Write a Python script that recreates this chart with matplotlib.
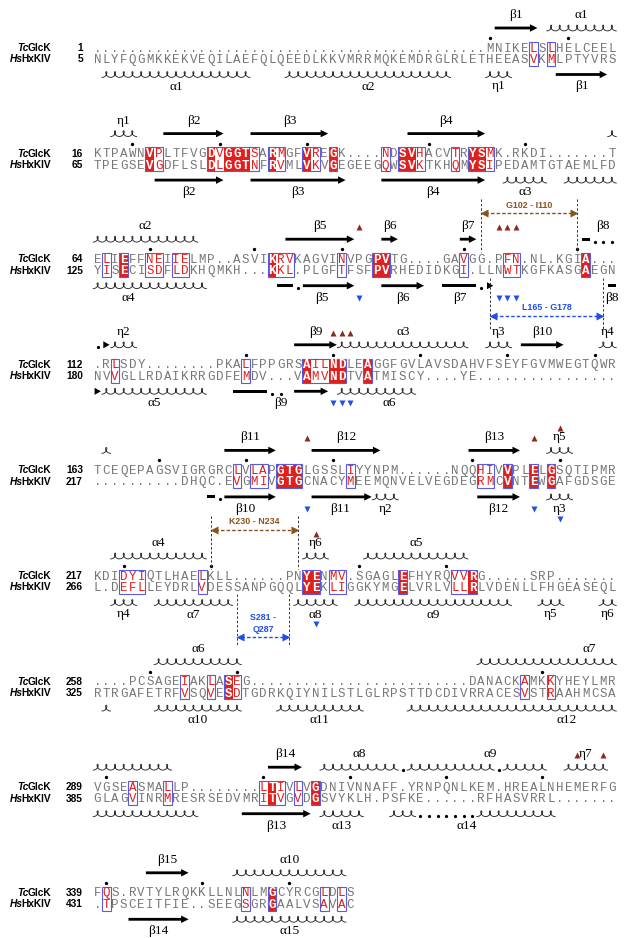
import numpy as np
import matplotlib.pyplot as plt
from matplotlib.patches import Rectangle, FancyArrow, Polygon

# ---------------- alignment data ----------------
tc_start = [1, 16, 64, 112, 163, 217, 258, 289, 339]
hs_start = [5, 65, 125, 180, 217, 266, 325, 385, 431]

tc_seq = [
    "." * 45 + "MNIKELSLHELCEEL",
    "KTPAWNVPLTFVGDVGGTSARMGFVREGK....NDSVHACVTRYSMK.RKDI.......T",
    "ELIEFFNEIIELMP..ASVIKRVKAGVINVPGPVTG....GAVGG.PFN.NL.KGIA...",
    ".RLSDY........PKALFPPGRSAILNDLEAGGFGVLAVSDAHVFSEYFGVMWEGTQWR",
    "TCEQEPAGSVIGRGRCLVLAPGTGLGSSLIYYNPM......NQQHIVVPLELGSQTIPMR",
    "KDIDYIQTLHAELKLL......PNYENMV.SGAGLEFHYRQVVRG.....SRP.......",
    "....PCSAGEIAKLASEG" + "." * 25 + "DANACKAMKKYHEYLMR",
    "VGSEASMALLP........LTIVLVGDNIVNNAFF.YRNPQNLKEM.HREALNHEMERFG",
    "FQS.RVTYLRQKKLLNLNLMGCYRCGLDLS",
]
hs_seq = [
    "NLYFQGMKKEKVEQILAEFQLQEEDLKKVMRRMQKEMDRGLRLETHEEASVKMLPTYVRS",
    "TPEGSEVGDFLSLDLGGTNFRVMLVKVGEGEEGQWSVKTKHQMYSIPEDAMTGTAEMLFD",
    "YISECISDFLDKHQMKH...KKL.PLGFTFSFPVRHEDIDKGI.LLNWTKGFKASGAEGN",
    "NVVGLLRDAIKRRGDFEMDV...VAMVNDTVATMISCY....YE" + "." * 16,
    "." * 10 + "DHQC.EVGMIVGTGCNACYMEEMQNVELVEGDEGRMCVNTEWGAFGDSGE",
    "L.DEFLLEYDRLVDESSANPGQQLYEKLIGGKYMGELVRLVLLRLVDENLLFHGEASEQL",
    "RTRGAFETRFVSQVESDTGDRKQIYNILSTLGLRPSTTDCDIVRRACESVSTRAAHMCSA",
    "GLAGVINRMRESRSEDVMRITVGVDGSVYKLH.PSFKE......RFHASVRRL.......",
    ".TPSCEITFIE..SEEGSGRGAALVSAVAC",
]

# columns with identical (red box) and similar (red letter) residues
identical = [
    [],
    [6, 13, 15, 16, 17, 20, 24, 27, 35, 36, 43, 44],
    [3, 20, 32, 33, 56],
    [24, 27, 28, 31],
    [21, 22, 23, 47, 50, 52],
    [24, 25, 35, 43],
    [15],
    [20, 25],
    [20],
]
similar = [
    [50, 52],
    [7, 14, 18, 21, 25, 33, 37, 41, 45],
    [1, 6, 7, 9, 10, 21, 22, 28, 42, 47, 48],
    [2, 17, 25, 26],
    [16, 18, 19, 29, 44, 45],
    [3, 4, 5, 12, 27, 28, 41, 42],
    [10, 13, 16, 49, 52],
    [4, 8, 19, 21, 23],
    [1, 17, 26, 28],
]

# secondary structure: (kind, first col, last col, label[, label col])
top_ss = [
    [("arrow", 46, 50, "β1"), ("coil", 52, 59, "α1")],
    [("coil", 2, 4, "η1"), ("arrow", 8, 14, "β2"), ("arrow", 18, 26, "β3"),
     ("arrow", 36, 44, "β4"), ("coil", 59, 59, "")],
    [("coil", 0, 11, "α2"), ("arrow", 22, 29, "β5"), ("arrow", 33, 34, "β6"),
     ("arrow", 42, 43, "β7"), ("bar", 56, 56, ""), ("dot", 57, 57, ""),
     ("dot", 58, 58, ""), ("dot", 59, 59, ""), ("label", 58, 58, "β8")],
    [("dot", 0, 0, ""), ("head", 1, 1, ""), ("coil", 2, 4, "η2"),
     ("arrow", 23, 27, "β9"), ("coil", 28, 42, "α3"), ("coil", 45, 47, "η3"),
     ("arrow", 49, 53, "β10"), ("coil", 58, 59, "η4")],
    [("coil", 1, 1, ""), ("arrow", 15, 20, "β11"), ("arrow", 25, 32, "β12"),
     ("arrow", 43, 48, "β13"), ("coil", 52, 54, "η5")],
    [("coil", 2, 12, "α4"), ("coil", 24, 26, "η6"), ("coil", 31, 42, "α5")],
    [("coil", 7, 16, "α6"), ("coil", 44, 59, "α7", 56.4)],
    [("coil", 0, 8, ""), ("arrow", 20, 23, "β14"), ("coil", 26, 34, "α8"),
     ("dot", 35, 35, ""), ("coil", 36, 37, ""), ("coil", 38, 45, "α9", 45),
     ("dot", 46, 46, ""), ("coil", 47, 51, ""), ("coil", 54, 58, "η7")],
    [("arrow", 6, 10, "β15"), ("coil", 16, 28, "α10")],
]
bot_ss = [
    [("coil", 1, 17, "α1"), ("coil", 22, 40, "α2"), ("coil", 45, 47, "η1"),
     ("arrow", 53, 58, "β1")],
    [("arrow", 7, 14, "β2"), ("arrow", 18, 28, "β3"), ("arrow", 33, 44, "β4"),
     ("coil", 47, 51, "α3"), ("coil", 54, 59, "")],
    [("coil", 0, 12, "α4", 3.5), ("bar", 21, 22, ""), ("dot", 23, 23, ""),
     ("arrow", 24, 29, "β5", 25.7), ("arrow", 33, 37, "β6"), ("bar", 40, 43, "β7"),
     ("dot", 44, 44, ""), ("head", 45, 45, ""), ("bar", 59, 59, "β8")],
    [("head", 0, 0, ""), ("coil", 1, 12, "α5"), ("bar", 16, 19, ""),
     ("dot", 20, 20, ""), ("dot", 21, 21, ""), ("arrow", 23, 26, ""),
     ("label", 21, 21, "β9"), ("coil", 28, 36, "α6", 33.5)],
    [("bar", 13, 13, ""), ("dot", 14, 14, ""), ("arrow", 15, 20, "β10", 16.9),
     ("arrow", 25, 31, "β11", 27.8), ("coil", 32, 34, "η2"),
     ("arrow", 44, 48, "β12"), ("coil", 52, 54, "η3")],
    [("coil", 2, 4, "η4"), ("coil", 7, 15, "α7"), ("coil", 23, 27, "α8"),
     ("coil", 30, 47, "α9"), ("coil", 51, 53, "η5"), ("coil", 58, 59, "η6")],
    [("coil", 1, 1, ""), ("coil", 7, 16, "α10"), ("coil", 21, 30, "α11"),
     ("coil", 36, 59, "α12", 53.8)],
    [("coil", 0, 11, ""), ("arrow", 17, 24, "β13"), ("coil", 26, 30, "α13"),
     ("coil", 34, 36, ""), ("dot", 37, 37, ""), ("dot", 38, 38, ""),
     ("dot", 39, 39, ""), ("dot", 40, 40, ""), ("dot", 41, 41, ""),
     ("dot", 42, 42, ""), ("dot", 43, 43, ""), ("coil", 44, 52, "α14", 42.3)],
    [("arrow", 4, 10, "β14"), ("coil", 16, 28, "α15")],
]

# extra position markers not on a multiple of ten: (block, col)
extra_dots = [(0, 45)]

# contact triangles: (col, level)
top_tri = [[], [], [(30, 0), (46, 0), (47, 0), (48, 0)], [(27, 0), (28, 0), (29, 0)],
           [(24, 0), (50, 0), (53, 1)], [(25, 1)], [], [(55, 0), (58, 0)], []]
bot_tri = [[], [], [(30, 0), (46, 0), (47, 0), (48, 0)], [(27, 0), (28, 0), (29, 0)],
           [(24, 0), (50, 0), (53, 1)], [(25, 1)], [], [], []]

# flexible regions
reg_block = [2, 2, 5, 5]
reg_side = ["top", "bot", "top", "bot"]
reg_cols = [(44, 55), (45, 58), (13, 23), (16, 22)]
reg_text = ["G102 - I110", "L165 - G178", "K230 - N234", "S281 -\nQ287"]

# ---------------- drawing ----------------
RED = "#e0201c"
FRAME = "#5b5be0"
GREY = "#777777"
BROWN = "#8a531c"
BLUE = "#1f4fe8"
DARK_RED = "#8c2a1c"

fig = plt.figure(figsize=(6.29, 9.38), dpi=100)
ax = fig.add_axes([0, 0, 1, 1])
ax.set_xlim(0, 629)
ax.set_ylim(938, 0)
ax.axis("off")

x0, pitch = 97.5, 8.72
gap = 11.5
block_y = 48 + 105.6 * np.arange(len(tc_seq))


def cx(c):
    return x0 + pitch * c


def draw_coil(xa, xb, y, n):
    th = np.linspace(0, 2 * np.pi * n, 80 * n)
    r = 2.9
    x = xa + (xb - xa) * th / (2 * np.pi * n) + 0.8 * r * np.sin(th)
    yy = y + r - r * (1 - np.cos(th))
    ax.plot(x, yy, color="#2a2a2a", lw=0.65)


def draw_ss(items, y, ylab):
    for it in items:
        kind, s, e, lab = it[:4]
        lc = it[4] if len(it) > 4 else (s + e) / 2
        xa, xb = cx(s) - pitch * 0.45, cx(e) + pitch * 0.45
        if kind == "arrow":
            ax.add_patch(FancyArrow(xa, y, xb - xa, 0, width=2.8, head_width=7.5,
                                    head_length=min(7.5, xb - xa), length_includes_head=True,
                                    color="black", lw=0))
        elif kind == "bar":
            ax.add_patch(Rectangle((xa, y - 1.4), xb - xa, 2.8, color="black", lw=0))
        elif kind == "head":
            ax.add_patch(Polygon([[xa + 1, y - 3.5], [xa + 1, y + 3.5], [xb - 0.5, y]],
                                 color="black", lw=0))
        elif kind == "coil":
            draw_coil(xa - 0.3, xb + 0.3, y, e - s + 1)
        elif kind == "dot":
            ax.plot(cx(s), y + 2.5, "o", ms=1.3, color="black")
        if lab:
            ax.text(cx(lc), ylab, lab, ha="center", va="center", fontsize=9.5,
                    family="Liberation Serif")


renderer = fig.canvas.get_renderer()


def draw_name(y, pre, rest):
    t = ax.text(51, y, rest, ha="right", va="center", fontsize=7.3,
                fontweight="bold", family="Liberation Sans")
    w = t.get_window_extent(renderer).width
    ax.text(51 - w + 1.2, y, pre, ha="right", va="center", fontsize=7.3,
            fontweight="bold", style="italic", family="Liberation Sans")


for b in range(len(tc_seq)):
    T = block_y[b]
    Hy = T + gap
    seqs = [tc_seq[b], hs_seq[b]]

    # conserved column frames (runs of conserved columns)
    cons = sorted(set(identical[b]) | set(similar[b]))
    runs = []
    for c in cons:
        if runs and c == runs[-1][1] + 1:
            runs[-1][1] = c
        else:
            runs.append([c, c])
    for c in identical[b]:
        ax.add_patch(Rectangle((cx(c) - pitch / 2, T - gap / 2 - 0.5), pitch, 2 * gap + 1,
                               facecolor=RED, edgecolor="none", zorder=1))
    for a, e in runs:
        ax.add_patch(Rectangle((cx(a) - pitch / 2, T - gap / 2 - 0.5), (e - a + 1) * pitch,
                               2 * gap + 1, facecolor="none", edgecolor=FRAME, lw=0.8, zorder=2))

    # letters
    for r, seq in enumerate(seqs):
        yy = T + r * gap
        for c, ch in enumerate(seq):
            if c in identical[b]:
                col, fw = "white", "bold"
            elif c in similar[b]:
                col, fw = RED, "normal"
            else:
                col, fw = GREY, "normal"
            ax.text(cx(c), yy + 0.5, ch, ha="center", va="center", fontsize=9,
                    family="Liberation Mono", color=col, fontweight=fw, zorder=3)

    # names and numbers
    draw_name(T, "Tc", "GlcK")
    draw_name(Hy, "Hs", "HxKIV")
    ax.text(83, T, str(tc_start[b]), ha="right", va="center", fontsize=7.3,
            fontweight="bold", family="Liberation Sans")
    ax.text(83, Hy, str(hs_start[b]), ha="right", va="center", fontsize=7.3,
            fontweight="bold", family="Liberation Sans")

    # every-10 residue markers
    n = tc_start[b] - 1
    for c, ch in enumerate(tc_seq[b]):
        if ch != ".":
            n += 1
            if n % 10 == 0:
                ax.plot(cx(c), T - 10, "o", ms=1.4, color="black")
    for bb, c in extra_dots:
        if bb == b:
            ax.plot(cx(c), T - 10, "o", ms=1.4, color="black")

    # secondary structure
    draw_ss(top_ss[b], T - 20, T - 33)
    draw_ss(bot_ss[b], Hy + 15, Hy + 27)

    for c, lev in top_tri[b]:
        ax.plot(cx(c), T - 32 - 10 * lev, "^", ms=3.8, color=DARK_RED, mec="none")
    for c, lev in bot_tri[b]:
        ax.plot(cx(c), Hy + 27 + 10 * lev, "v", ms=3.8, color=BLUE, mec="none")

# flexible regions
for b, side, (a, e), txt in zip(reg_block, reg_side, reg_cols, reg_text):
    T = block_y[b]
    Hy = T + gap
    if side == "top":
        col, ya, yl, y1, y2 = BROWN, T - 46, T - 54, T - 60, T - 7
    else:
        two = "\n" in txt
        col = BLUE
        ya = Hy + (50 if two else 45)
        yl = Hy + (36 if two else 37)
        y1, y2 = Hy + 7, Hy + 58
    for c in (a, e):
        ax.plot([cx(c), cx(c)], [y1, y2], color="#333333", lw=0.7, ls=(0, (2.5, 2)))
    ax.plot([cx(a) + 4, cx(e) - 4], [ya, ya], color=col, lw=1.0, ls=(0, (2.5, 1.5)))
    ax.plot(cx(a) + 3, ya, "<", ms=5.5, color=col, mec="none")
    ax.plot(cx(e) - 3, ya, ">", ms=5.5, color=col, mec="none")
    ax.text((cx(a) + cx(e)) / 2, yl, txt, ha="center", va="center", fontsize=6.4,
            fontweight="bold", color=col, family="Liberation Sans", linespacing=1.3)

fig.savefig("out.png", dpi=100, facecolor="white")
